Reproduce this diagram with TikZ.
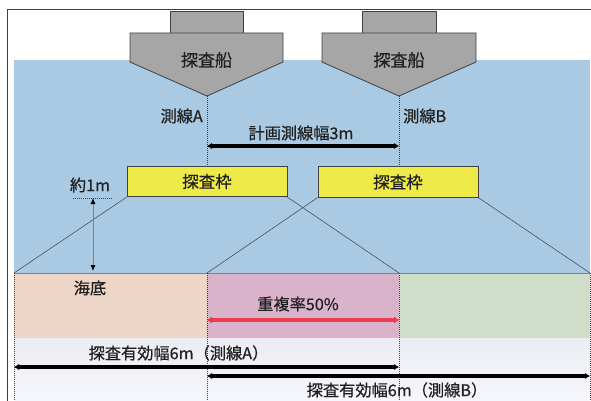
\documentclass[tikz,border=0pt]{standalone}
\usepackage{fontspec}
\newfontfamily\jp[FakeBold=0.6]{Noto Sans CJK JP}
\usetikzlibrary{arrows.meta}
\definecolor{sea}{HTML}{AACAE3}
\definecolor{peach}{HTML}{EDD5C8}
\definecolor{mauve}{HTML}{D9B3CA}
\definecolor{moss}{HTML}{D0DDC8}
\definecolor{shipgrey}{HTML}{A6A6A6}
\definecolor{edge}{HTML}{404040}
\definecolor{frameyel}{HTML}{EEEA4A}
\definecolor{txt}{HTML}{202020}
\definecolor{redarr}{HTML}{EC3A4E}
\begin{document}
\begin{tikzpicture}[x=1pt,y=-1pt,
  lbl/.style={font=\jp\fontsize{16.2}{18}\selectfont, text=txt, inner sep=0pt},
  shipbody/.style={fill=shipgrey, draw=edge, line width=0.8pt},
  framebox/.style={fill=frameyel, draw=edge, line width=0.8pt, minimum width=160pt, minimum height=30.5pt, inner sep=0pt, font=\jp\fontsize{16.5}{18}\selectfont, text=txt},
  dotline/.style={draw=edge, line width=0.5pt, dash pattern=on 1pt off 1pt},
  beam/.style={draw=edge, line width=0.5pt},
  blackarr/.style={draw=black, line width=3.1pt, {Latex[length=5pt,width=6.5pt]}-{Latex[length=5pt,width=6.5pt]}},
  redarrow/.style={draw=redarr, line width=3.6pt, {Latex[length=5pt,width=7.5pt]}-{Latex[length=5pt,width=7.5pt]}},
  greyarr/.style={draw=gray, line width=0.8pt, {Latex[length=6pt,width=5pt,color=black]}-{Latex[length=6pt,width=5pt,color=black]}}]
\useasboundingbox (0,0) rectangle (591,401);
\fill[white] (0,0) rectangle (591,401);
% water and sea floor
\fill[sea] (14,60) rectangle (590,273);
\fill[peach] (14,273) rectangle (207,338);
\fill[mauve] (207,273) rectangle (399,338);
\fill[moss] (399,273) rectangle (590,338);
\shade[top color={rgb,255:red,236;green,237;blue,242}, bottom color={rgb,255:red,245;green,247;blue,252}] (14,338) rectangle (590,401);
\draw[gray, line width=0.5pt] (14,273) -- (590,273);
% outer frame
\draw[edge, line width=0.8pt] (591,9) -- (7,9) -- (7,401);
% ships
\draw[shipbody] (170,11) rectangle (243,33);
\draw[shipbody] (130,33) -- (283,33) -- (283,62) -- (207,96) -- (130,62) -- cycle;
\draw[shipbody] (362,11) rectangle (436,33);
\draw[shipbody] (322,33) -- (476,33) -- (476,62) -- (399,96) -- (322,62) -- cycle;
\node[lbl, font=\jp\fontsize{17}{18}\selectfont] (shipA) at (206.5,60) {探査船};
\node[lbl, font=\jp\fontsize{17}{18}\selectfont] (shipB) at (399,60) {探査船};
\coordinate (apexA) at (207,96);
\coordinate (apexB) at (399,96);
% frames
\node[framebox] (frA) at (207,181.5) {探査枠};
\node[framebox] (frB) at (398,182) {探査枠};
% survey lines
\draw[dotline] (apexA) -- (frA.north -| apexA);
\draw[dotline] (apexB) -- (frB.north -| apexB);
\node[lbl, anchor=east] (lineA) at (203,116) {測線A};
\node[lbl, anchor=west] (lineB) at (403,116) {測線B};
\node[lbl] (plan) at (301,133) {計画測線幅3m};
\coordinate (pA) at (207,146);
\coordinate (pB) at (399,146);
\draw[blackarr] (pA) -- (pB);
% beams
\coordinate (fA1) at (14,273);
\coordinate (fA2) at (399,273);
\coordinate (fB1) at (207,273);
\coordinate (fB2) at (590,273);
\draw[beam] (frA.south west) -- (fA1);
\draw[beam] (frA.south east) -- (fA2);
\draw[beam] (frB.south west) -- (fB1);
\draw[beam] (frB.south east) -- (fB2);
% vertical dotted guides
\coordinate (bA1) at (14,401);
\coordinate (bA2) at (399,401);
\coordinate (bB1) at (207,401);
\coordinate (bB2) at (590,401);
\draw[dotline] (fA1) -- (bA1);
\draw[dotline] (fA2) -- (bA2);
\draw[dotline] (fB1) -- (bB1);
\draw[dotline] (fB2) -- (bB2);
% about 1m
\node[lbl] (onem) at (90,185) {約1m};
\coordinate (d1) at (73,198);
\coordinate (d2) at (113,198);
\draw[dotline] (d1) -- (d2);
\coordinate (h1) at (93,198);
\coordinate (h2) at (93,271);
\draw[greyarr] (h1) -- (h2);
\node[lbl] (floor) at (90,288) {海底};
% overlap
\node[lbl] (ovl) at (298,304) {重複率50\%};
\coordinate (rA) at (207,320);
\coordinate (rB) at (399,320);
\draw[redarrow] (rA) -- (rB);
% effective widths
\node[lbl] (effA) at (178.5,353) {探査有効幅6m（測線A）};
\coordinate (eA1) at (14,367);
\coordinate (eA2) at (399,367);
\draw[blackarr] (eA1) -- (eA2);
\coordinate (eB1) at (207,376);
\coordinate (eB2) at (590,376);
\draw[blackarr] (eB1) -- (eB2);
\node[lbl] (effB) at (397,390) {探査有効幅6m（測線B）};
\end{tikzpicture}
\end{document}
